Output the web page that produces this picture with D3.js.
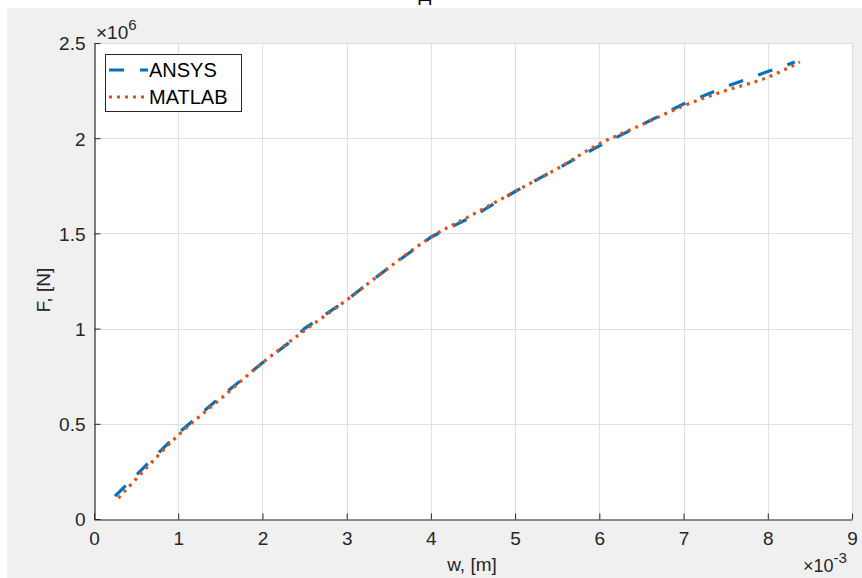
<!DOCTYPE html>
<html>
<head>
<meta charset="utf-8">
<script src="https://cdn.jsdelivr.net/npm/d3@7"></script>
<style>
  html, body { margin: 0; padding: 0; background: #fff; }
  svg { display: block; font-family: "Liberation Sans", Arial, sans-serif; }
</style>
</head>
<body>
<div id="app"></div>
<script>
// w in units of 1e-3 m, F in units of 1e6 N
const ansysW = [0.25, 0.5, 1.0, 1.5, 2.0, 2.3, 2.5, 3.0, 3.5, 4.0, 4.5, 5.0, 5.5, 6.0, 6.5, 7.0, 7.5, 8.0, 8.32];
const ansysF = [0.12, 0.23, 0.45, 0.64, 0.82, 0.92, 1.00, 1.15, 1.32, 1.48, 1.59, 1.72, 1.84, 1.96, 2.07, 2.18, 2.27, 2.35, 2.40];
const matlabW = [0.29, 0.5, 1.0, 1.5, 2.0, 2.5, 3.0, 3.5, 4.0, 4.5, 5.0, 5.5, 6.0, 6.5, 7.0, 7.5, 8.0, 8.38];
const matlabF = [0.11, 0.21, 0.44, 0.63, 0.82, 0.99, 1.15, 1.32, 1.48, 1.60, 1.72, 1.84, 1.97, 2.07, 2.17, 2.25, 2.32, 2.40];

const xTicks = [0, 1, 2, 3, 4, 5, 6, 7, 8, 9];
const yTicks = [0, 0.5, 1, 1.5, 2, 2.5];
const seriesNames = ['ANSYS', 'MATLAB'];

const width = 862, height = 578;
const plot = { left: 94, right: 852, top: 43, bottom: 519 };

const svg = d3.select('#app').append('svg')
  .attr('width', width)
  .attr('height', height);

// figure background
svg.append('rect').attr('x', 7).attr('y', 8)
  .attr('width', width - 7).attr('height', height - 8)
  .attr('fill', '#f0f0f0');

// title, cropped by the top edge of the picture
svg.append('text')
  .attr('x', 425).attr('y', 1)
  .attr('text-anchor', 'middle')
  .attr('font-size', 19)
  .attr('fill', '#000')
  .text('Д');

const x = d3.scaleLinear().domain([0, 9]).range([plot.left, plot.right]);
const y = d3.scaleLinear().domain([0, 2.5]).range([plot.bottom, plot.top]);

svg.append('rect')
  .attr('x', plot.left).attr('y', plot.top)
  .attr('width', plot.right - plot.left).attr('height', plot.bottom - plot.top)
  .attr('fill', '#fff');

// grid
const grid = svg.append('g').attr('stroke', '#dfdfdf').attr('stroke-width', 1);
grid.selectAll('.gx').data(xTicks.slice(1)).join('line')
  .attr('x1', d => Math.round(x(d)) + 0.5).attr('x2', d => Math.round(x(d)) + 0.5)
  .attr('y1', plot.top).attr('y2', plot.bottom);
grid.selectAll('.gy').data(yTicks.slice(1)).join('line')
  .attr('y1', d => Math.round(y(d)) + 0.5).attr('y2', d => Math.round(y(d)) + 0.5)
  .attr('x1', plot.left).attr('x2', plot.right);

// axes
const xAxis = svg.append('g')
  .attr('transform', `translate(0,${plot.bottom + 0.5})`)
  .call(d3.axisBottom(x).tickValues(xTicks).tickSizeInner(-6).tickSizeOuter(0).tickPadding(12).tickFormat(d3.format('d')));
const yAxis = svg.append('g')
  .attr('transform', `translate(${plot.left + 0.5},0)`)
  .call(d3.axisLeft(y).tickValues(yTicks).tickSizeInner(-6).tickSizeOuter(0).tickPadding(9).tickFormat(d => String(d)));

[xAxis, yAxis].forEach(a => {
  a.select('.domain').attr('stroke', '#262626').attr('stroke-width', 1.2);
  a.selectAll('.tick line').attr('stroke', '#262626');
  a.selectAll('.tick text').attr('fill', '#262626').attr('font-size', 19)
    .attr('font-family', '"Liberation Sans", Arial, sans-serif');
});
yAxis.selectAll('.tick text').attr('dy', '0.36em');
xAxis.selectAll('.tick text').attr('dy', '0.72em');

// exponent labels
const exp6 = svg.append('text').attr('x', 96).attr('y', 39).attr('fill', '#262626').attr('font-size', 19);
exp6.append('tspan').text('×10');
exp6.append('tspan').attr('font-size', 15).attr('dy', -9).text('6');
const exp3 = svg.append('text').attr('x', 803).attr('y', 572).attr('fill', '#262626').attr('font-size', 18);
exp3.append('tspan').text('×10');
exp3.append('tspan').attr('font-size', 15).attr('dy', -9).text('-3');

// axis labels
svg.append('text').attr('x', 472).attr('y', 571).attr('text-anchor', 'middle')
  .attr('fill', '#262626').attr('font-size', 19).text('w, [m]');
svg.append('text').attr('transform', 'translate(50,290) rotate(-90)')
  .attr('text-anchor', 'middle').attr('fill', '#262626').attr('font-size', 19).text('F, [N]');

// lines
const ansys = ansysW.map((w, i) => [w, ansysF[i]]);
const matlab = matlabW.map((w, i) => [w, matlabF[i]]);
const ansysLine = d3.line().x(d => x(d[0])).y(d => y(d[1]));
const matlabLine = d3.line().x(d => x(d[0])).y(d => y(d[1])).curve(d3.curveMonotoneX);

const styles = [
  { color: '#0072bd', dash: '15,16', width: 3.2 },
  { color: '#d95319', dash: '3,5', width: 3.2 }
];

svg.append('path').datum(ansys)
  .attr('d', ansysLine).attr('fill', 'none')
  .attr('stroke', styles[0].color).attr('stroke-width', styles[0].width)
  .attr('stroke-dasharray', styles[0].dash);
svg.append('path').datum(matlab)
  .attr('d', matlabLine).attr('fill', 'none')
  .attr('stroke', styles[1].color).attr('stroke-width', styles[1].width)
  .attr('stroke-dasharray', styles[1].dash);

// legend
const legend = svg.append('g');
legend.append('rect').attr('x', 105.5).attr('y', 54.5).attr('width', 136).attr('height', 57)
  .attr('fill', '#fff').attr('stroke', '#262626').attr('stroke-width', 1);
seriesNames.forEach((name, i) => {
  const cy = 70 + i * 27;
  legend.append('line').attr('x1', 109).attr('x2', 148).attr('y1', cy).attr('y2', cy)
    .attr('stroke', styles[i].color).attr('stroke-width', styles[i].width)
    .attr('stroke-dasharray', styles[i].dash);
  legend.append('text').attr('x', 149).attr('y', cy + 7)
    .attr('font-size', 20).attr('fill', '#000').text(name);
});
</script>
</body>
</html>
